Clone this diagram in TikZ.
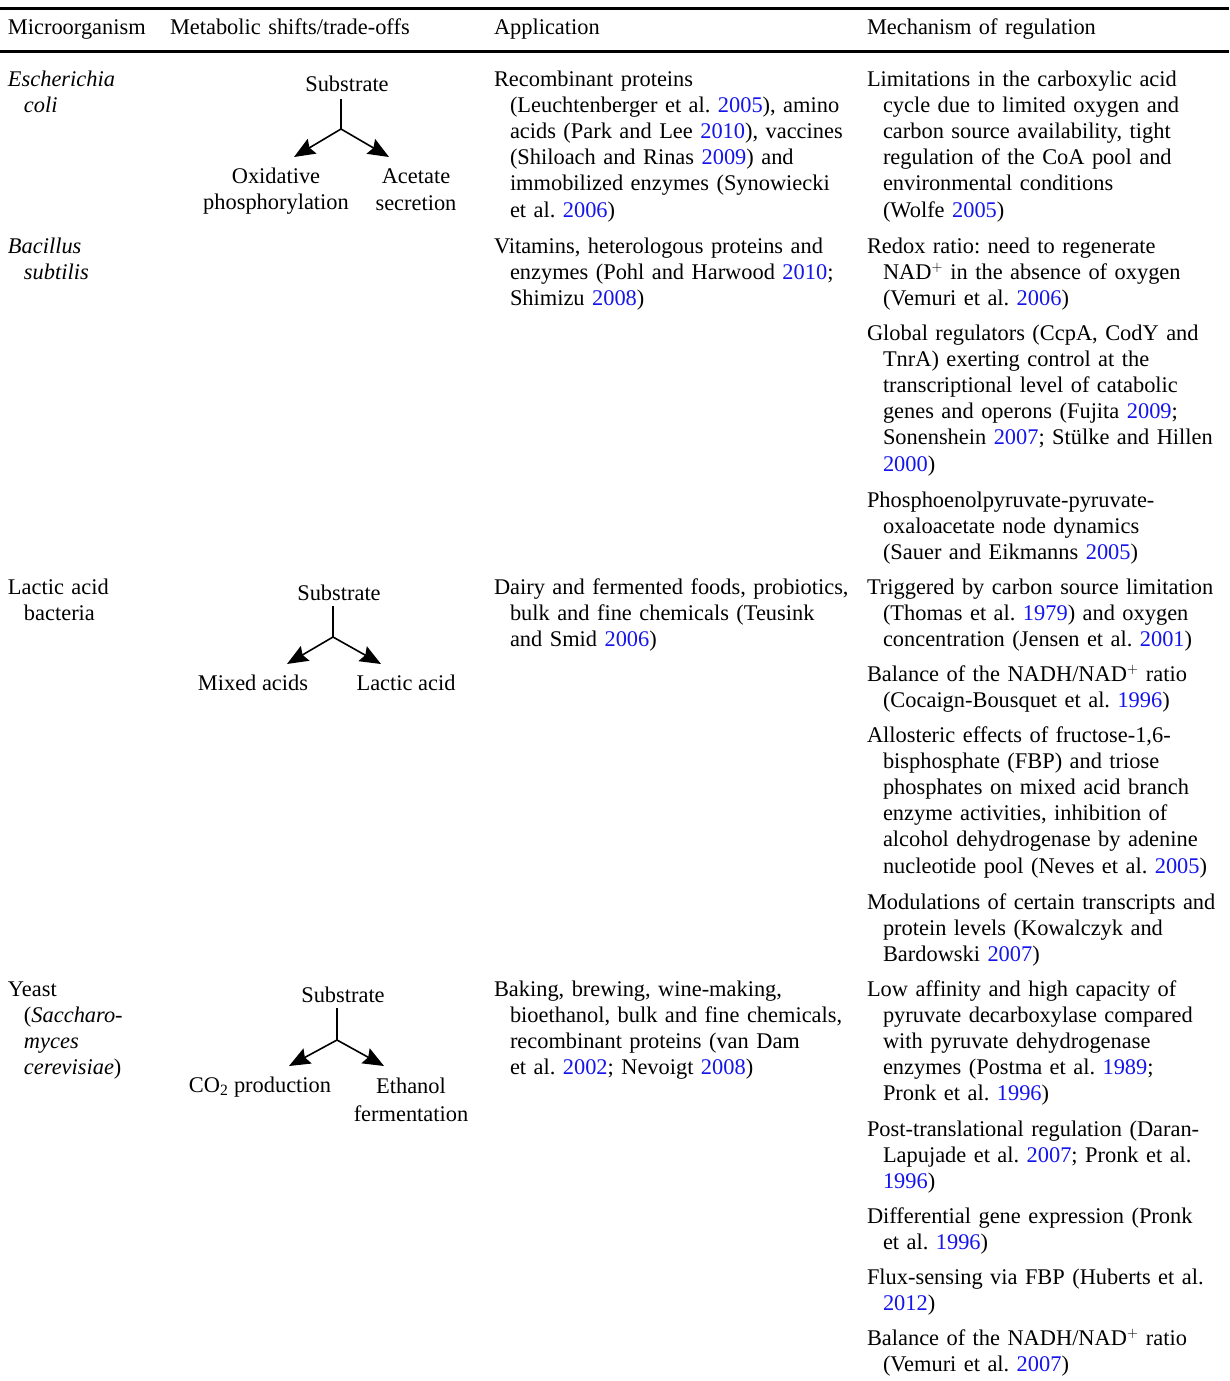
\documentclass[tikz,border=0pt]{standalone}
\usepackage{fontspec}
\setmainfont{Liberation Serif}
\usetikzlibrary{arrows.meta}
\definecolor{citeblue}{RGB}{20,20,235}
\newcommand\cy[1]{{\color{citeblue}#1}}
\newcommand\hind{\hspace*{16pt}}
\newcommand\nadp{NAD$^{+}$}
\frenchspacing
\begin{document}
\begin{tikzpicture}[x=1pt,y=-1pt,
  txt/.style={inner sep=0pt,outer sep=0pt,font={\fontsize{22.4pt}{26.2pt}\selectfont\frenchspacing}},
  cell/.style={txt,anchor=base west,text width=#1,align=left},
  cell/.default=420pt,
  lab/.style={txt,anchor=base},
  rulel/.style={line width=3pt},
  conn/.style={line width=1.6pt},
  arr/.style={conn,-{Stealth[length=21pt,width=17pt,inset=3pt]}}]
\useasboundingbox (0,0) rectangle (1229,1381);
% rules
\coordinate (r1a) at (0,8.5); \coordinate (r1b) at (1229,8.5);
\coordinate (r2a) at (0,51.5); \coordinate (r2b) at (1229,51.5);
\draw[rulel] (r1a) -- (r1b);
\draw[rulel] (r2a) -- (r2b);
% header
\node[cell=200pt] (h1) at (8,35) {Microorganism};
\node[cell=300pt] (h2) at (170,35) {Metabolic shifts/trade-offs};
\node[cell=300pt] (h3) at (494,35) {Application};
\node[cell=350pt] (h4) at (867,35) {Mechanism of regulation};
% column 1
\node[cell=200pt] (m1) at (8,86) {\textit{Escherichia}\\\hind\textit{coli}};
\node[cell=200pt] (m2) at (8,253) {\textit{Bacillus}\\\hind\textit{subtilis}};
\node[cell=200pt] (m3) at (8,594) {Lactic acid\\\hind bacteria};
\node[cell=200pt] (m4) at (8,996) {Yeast\\\hind(\textit{Saccharo-}\\\hind\textit{myces}\\\hind\textit{cerevisiae})};
% diagram 1
\node[lab] (sub1) at (347,92) {Substrate};
\node[lab] (ox1) at (276,183) {Oxidative};
\node[lab] (ph1) at (276,209) {phosphorylation};
\node[lab] (ac1) at (416,183) {Acetate};
\node[lab] (se1) at (416,210) {secretion};
\coordinate (s1) at (341,99); \coordinate (j1) at (341,129);
\coordinate (l1) at (294,157); \coordinate (q1) at (389,157);
\draw[conn] (s1) -- (j1);
\draw[arr] (j1) -- (l1);
\draw[arr] (j1) -- (q1);
% diagram 2
\node[lab] (sub2) at (339,600) {Substrate};
\node[lab] (mx2) at (253,690) {Mixed acids};
\node[lab] (la2) at (406,690) {Lactic acid};
\coordinate (s2) at (333,606); \coordinate (j2) at (333,637);
\coordinate (l2) at (287,664); \coordinate (q2) at (381,664);
\draw[conn] (s2) -- (j2);
\draw[arr] (j2) -- (l2);
\draw[arr] (j2) -- (q2);
% diagram 3
\node[lab] (sub3) at (343,1002) {Substrate};
\node[lab] (co3) at (260,1092) {CO\textsubscript{2} production};
\node[lab] (et3) at (411,1093) {Ethanol};
\node[lab] (fe3) at (411,1121) {fermentation};
\coordinate (s3) at (337,1008); \coordinate (j3) at (337,1040);
\coordinate (l3) at (289,1066); \coordinate (q3) at (384,1066);
\draw[conn] (s3) -- (j3);
\draw[arr] (j3) -- (l3);
\draw[arr] (j3) -- (q3);
% column 3
\node[cell] (a1) at (494,86) {Recombinant proteins\\\hind(Leuchtenberger et al. \cy{2005}), amino\\\hind acids (Park and Lee \cy{2010}), vaccines\\\hind(Shiloach and Rinas \cy{2009}) and\\\hind immobilized enzymes (Synowiecki\\\hind et al. \cy{2006})};
\node[cell] (a2) at (494,253) {Vitamins, heterologous proteins and\\\hind enzymes (Pohl and Harwood \cy{2010};\\\hind Shimizu \cy{2008})};
\node[cell] (a3) at (494,594) {Dairy and fermented foods, probiotics,\\\hind bulk and fine chemicals (Teusink\\\hind and Smid \cy{2006})};
\node[cell] (a4) at (494,996) {Baking, brewing, wine-making,\\\hind bioethanol, bulk and fine chemicals,\\\hind recombinant proteins (van Dam\\\hind et al. \cy{2002}; Nevoigt \cy{2008})};
% column 4
\node[cell] (g1) at (867,86) {Limitations in the carboxylic acid\\\hind cycle due to limited oxygen and\\\hind carbon source availability, tight\\\hind regulation of the CoA pool and\\\hind environmental conditions\\\hind(Wolfe \cy{2005})};
\node[cell] (g2) at (867,253) {Redox ratio: need to regenerate\\\hind \nadp{} in the absence of oxygen\\\hind(Vemuri et al. \cy{2006})};
\node[cell] (g3) at (867,340) {Global regulators (CcpA, CodY and\\\hind TnrA) exerting control at the\\\hind transcriptional level of catabolic\\\hind genes and operons (Fujita \cy{2009};\\\hind Sonenshein \cy{2007}; Stülke and Hillen\\\hind\cy{2000})};
\node[cell] (g4) at (867,507) {Phosphoenolpyruvate-pyruvate-\\\hind oxaloacetate node dynamics\\\hind(Sauer and Eikmanns \cy{2005})};
\node[cell] (g5) at (867,594) {Triggered by carbon source limitation\\\hind(Thomas et al. \cy{1979}) and oxygen\\\hind concentration (Jensen et al. \cy{2001})};
\node[cell] (g6) at (867,681) {Balance of the NADH/\nadp{} ratio\\\hind(Cocaign-Bousquet et al. \cy{1996})};
\node[cell] (g7) at (867,742) {Allosteric effects of fructose-1,6-\\\hind bisphosphate (FBP) and triose\\\hind phosphates on mixed acid branch\\\hind enzyme activities, inhibition of\\\hind alcohol dehydrogenase by adenine\\\hind nucleotide pool (Neves et al. \cy{2005})};
\node[cell] (g8) at (867,909) {Modulations of certain transcripts and\\\hind protein levels (Kowalczyk and\\\hind Bardowski \cy{2007})};
\node[cell] (g9) at (867,996) {Low affinity and high capacity of\\\hind pyruvate decarboxylase compared\\\hind with pyruvate dehydrogenase\\\hind enzymes (Postma et al. \cy{1989};\\\hind Pronk et al. \cy{1996})};
\node[cell] (g10) at (867,1136) {Post-translational regulation (Daran-\\\hind Lapujade et al. \cy{2007}; Pronk et al.\\\hind\cy{1996})};
\node[cell] (g11) at (867,1223) {Differential gene expression (Pronk\\\hind et al. \cy{1996})};
\node[cell] (g12) at (867,1284) {Flux-sensing via FBP (Huberts et al.\\\hind\cy{2012})};
\node[cell] (g13) at (867,1345) {Balance of the NADH/\nadp{} ratio\\\hind(Vemuri et al. \cy{2007})};
\end{tikzpicture}
\end{document}
